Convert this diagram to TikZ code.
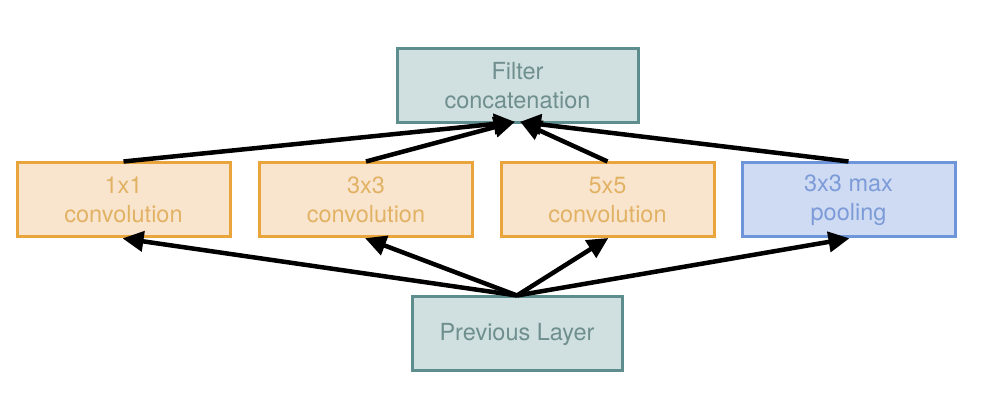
\documentclass[tikz,border=0pt]{standalone}
\usepackage{fontspec}
\setmainfont{TeX Gyre Heros}
\usetikzlibrary{arrows.meta}
\definecolor{tealfill}{HTML}{D0E0E0}
\definecolor{tealdraw}{HTML}{5E8D8D}
\definecolor{tealtext}{HTML}{6F8E8E}
\definecolor{orfill}{HTML}{F9E5CE}
\definecolor{ordraw}{HTML}{E9A43C}
\definecolor{ortext}{HTML}{E2B264}
\definecolor{blfill}{HTML}{CEDBF2}
\definecolor{bldraw}{HTML}{6E94DA}
\definecolor{bltext}{HTML}{7C9BD8}
\tikzset{
  x=1pt, y=1pt,
  box/.style={rectangle, line width=3pt, minimum height=74pt, align=center,
    font=\fontsize{23.5}{29}\selectfont, inner sep=0pt},
  tealbox/.style={box, fill=tealfill, draw=tealdraw, text=tealtext},
  orbox/.style={box, fill=orfill, draw=ordraw, text=ortext, minimum width=213pt},
  blbox/.style={box, fill=blfill, draw=bldraw, text=bltext, minimum width=213pt},
  arr/.style={line width=4.5pt, -{Triangle[length=21pt,width=20pt]}, shorten >=-1pt}
}
\begin{document}
\begin{tikzpicture}
\useasboundingbox (0,0) rectangle (1006,420);
\node[tealbox, minimum width=241pt] (concat) at (517.5,334) {Filter\\concatenation};
\node[tealbox, minimum width=210pt] (prev) at (517,86) {Previous Layer};
\node[orbox] (b1) at (123.5,220) {1x1\\convolution};
\node[orbox] (b3) at (366,220) {3x3\\convolution};
\node[orbox] (b5) at (607.5,220) {5x5\\convolution};
\node[blbox] (bp) at (848.5,220) {3x3 max\\pooling};
\coordinate (cl) at (514,298);
\coordinate (cr) at (521,298);
\draw[arr] (b1.north) -- (cl);
\draw[arr] (b3.north) -- (cl);
\draw[arr] (b5.north) -- (cr);
\draw[arr] (bp.north) -- (cr);
\draw[arr] (prev.north) -- (b1.south);
\draw[arr] (prev.north) -- (b3.south);
\draw[arr] (prev.north) -- (b5.south);
\draw[arr] (prev.north) -- (bp.south);
\end{tikzpicture}
\end{document}
